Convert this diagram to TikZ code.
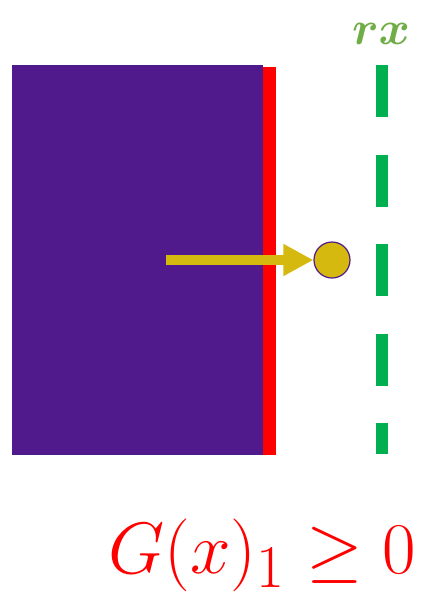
\documentclass[tikz,border=0pt]{standalone}
\usepackage{graphicx}
\usepackage{amsmath,amssymb,bm}
\usetikzlibrary{arrows.meta}
\definecolor{body}{HTML}{501A8C}
\definecolor{edge}{HTML}{FF0000}
\definecolor{bound}{HTML}{00B050}
\definecolor{gold}{HTML}{D6B90F}
\definecolor{lbl}{HTML}{70AD47}
\tikzset{
  bodybox/.style={fill=body, draw=none, inner sep=0pt, anchor=north west},
  edgebar/.style={fill=edge, draw=none, inner sep=0pt, anchor=north west},
  pointdot/.style={circle, fill=gold, draw=body, line width=1.2pt, minimum size=36pt, inner sep=0pt},
  pusharrow/.style={draw=gold, line width=10pt, -{Triangle[width=30pt,length=30pt]}},
  boundline/.style={draw=bound, line width=12.5pt, dash pattern=on 52pt off 37.5pt},
}
\begin{document}
\begin{tikzpicture}[x=1pt,y=-1pt]
\useasboundingbox (0,0) rectangle (422,595);
\node[edgebar, minimum width=13pt, minimum height=388pt] (side) at (262.5,67) {};
\node[bodybox, minimum width=251pt, minimum height=390pt] (blk) at (12,65) {};
\node[pointdot] (pt) at (332,260) {};
\coordinate (start) at (166,260);
\draw[pusharrow] (start) -- (pt.west);
\coordinate (btop) at (382,65);
\coordinate (bbot) at (382,454);
\draw[boundline] (btop) -- (bbot);
\node[text=lbl, inner sep=0pt, anchor=base] (rx) at (381,44) {\resizebox{58pt}{!}{\Huge$\bm{rx}$}};
\node[text=edge, inner sep=0pt, anchor=base west] (cond) at (108,573) {\resizebox{308pt}{!}{\Huge$G(x)_1 \geq 0$}};
\end{tikzpicture}
\end{document}
